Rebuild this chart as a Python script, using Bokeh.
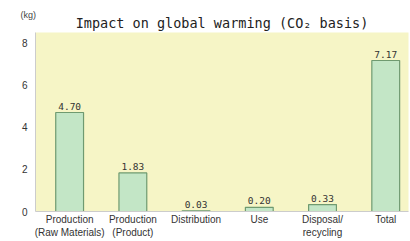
from bokeh.plotting import figure
from bokeh.models import ColumnDataSource, FixedTicker, Range1d, Title
from bokeh.embed import file_html
from bokeh.resources import INLINE
from bokeh.core.properties import value

categories = ["Production\n(Raw Materials)", "Production\n(Product)", "Distribution", "Use", "Disposal/\nrecycling", "Total"]
values = [4.70, 1.83, 0.03, 0.20, 0.33, 7.17]
value_labels = ["4.70", "1.83", "0.03", "0.20", "0.33", "7.17"]
y_ticks = [0, 2, 4, 6, 8]

xs = list(range(len(categories)))
src = ColumnDataSource(dict(x=xs, top=values, lab=value_labels))

p = figure(frame_width=373, frame_height=179, output_backend="svg", toolbar_location=None,
           x_range=Range1d(-0.54, 5.36), y_range=Range1d(0, 8.5),
           min_border_left=35, min_border_right=2, min_border_bottom=30, min_border_top=32)
# unit label (outer title row)
p.title.text = "(kg)"
p.title.text_font = "Liberation Sans"
p.title.text_font_size = "9px"
p.title.text_font_style = "normal"
p.title.text_color = "#444444"
p.title.align = "left"
p.title.offset = -15
p.title.standoff = -18

main = Title(text="Impact on global warming (CO\u2082 basis)", align="center", standoff=4,
             text_font="DejaVu Sans Mono", text_font_size="13.5px",
             text_font_style="normal", text_color="#222222")
p.add_layout(main, "above")

p.background_fill_color = "#f6f5c6"
p.border_fill_color = "white"
p.outline_line_color = None
p.grid.visible = False

p.vbar(x="x", top="top", width=0.44, bottom=0, source=src,
       fill_color="#c3e6c6", line_color="#6f9a70", line_width=1.2)
p.text(x="x", y="top", text="lab", source=src, text_align="center", text_baseline="bottom",
       y_offset=-3, text_font=value("DejaVu Sans Mono"), text_font_size="9.5px", text_color="#333333")

p.xaxis.ticker = FixedTicker(ticks=xs)
p.xaxis.major_label_overrides = {i: c for i, c in enumerate(categories)}
p.yaxis.ticker = FixedTicker(ticks=y_ticks)
for ax in (p.xaxis[0], p.yaxis[0]):
    ax.axis_line_color = "#cccccc"
    ax.major_tick_line_color = None
    ax.minor_tick_line_color = None
    ax.major_tick_out = 0
    ax.major_tick_in = 0
    ax.minor_tick_out = 0
    ax.major_label_text_font = "Liberation Sans"
    ax.major_label_text_font_size = "10px"
    ax.major_label_text_color = "#333333"
p.xaxis.major_label_standoff = 2
p.yaxis.major_label_standoff = 8

open("out.html", "w").write(file_html(p, INLINE))
